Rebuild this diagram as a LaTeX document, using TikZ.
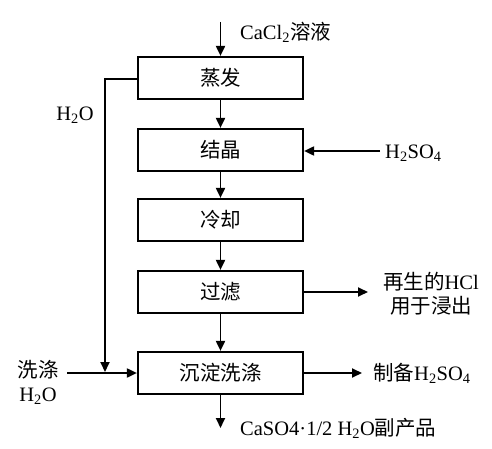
\documentclass[tikz,border=0pt]{standalone}
\usepackage{fontspec}
\setmainfont{Liberation Serif}
\newfontfamily\cjk{Noto Sans CJK SC}
\usetikzlibrary{arrows.meta}
\begin{document}
\begin{tikzpicture}[x=1pt,y=-1pt,
  every node/.style={font=\fontsize{20.5}{24}\selectfont},
  stepbox/.style={draw,line width=2.2pt,minimum width=165pt,minimum height=42pt,inner sep=0pt},
  flow/.style={line width=1.9pt,-{Triangle[length=10pt,width=9pt]}},
  lbl/.style={inner sep=0pt,anchor=west}]
\useasboundingbox (0,0) rectangle (492,449);
\node[stepbox] (b1) at (220.5,78) {\cjk 蒸发};
\node[stepbox] (b2) at (220.5,150) {\cjk 结晶};
\node[stepbox] (b3) at (220.5,220) {\cjk 冷却};
\node[stepbox] (b4) at (220.5,292) {\cjk 过滤};
\node[stepbox] (b5) at (220.5,373) {\cjk 沉淀洗涤};
\coordinate (top) at (220.5,22);
\node[lbl] (cacl) at (240,32) {CaCl\textsubscript{2}{\cjk 溶液}};
\draw[flow] (top) -- (b1.north);
\draw[flow] (b1) -- (b2);
\draw[flow] (b2) -- (b3);
\draw[flow] (b3) -- (b4);
\draw[flow] (b4) -- (b5);
\coordinate (bot) at (220.5,428);
\draw[flow] (b5.south) -- (bot);
\node[lbl] (prod) at (240,428) {CaSO4·1/2 H\textsubscript{2}O{\cjk 副产品}};
% H2SO4 into crystallization
\coordinate (hs) at (380,151);
\draw[flow] (hs) -- (b2.east |- hs);
\node[lbl] (hsl) at (385,153) {H\textsubscript{2}SO\textsubscript{4}};
% HCl out
\coordinate (hcl) at (368,292);
\draw[flow] (b4.east |- hcl) -- (hcl);
\node[inner sep=0pt,align=center] (hcll) at (431,294) {{\cjk 再生的}HCl\\{\cjk 用于浸出}};
% H2SO4 out
\coordinate (so) at (362,373);
\draw[flow] (b5.east) -- (so);
\node[lbl] (sol) at (373,373) {{\cjk 制备}H\textsubscript{2}SO\textsubscript{4}};
% water recycle
\coordinate (w1) at (105,79);
\coordinate (w2) at (105,372);
\draw[flow] (b1.west |- w1) -- (w1) -- (w2);
\node[inner sep=0pt] (h2o) at (75,115) {H\textsubscript{2}O};
% wash water
\coordinate (ww) at (67,373);
\draw[flow] (ww) -- (b5.west);
\node[inner sep=0pt,align=center] (wash) at (38,382) {{\cjk 洗涤}\\H\textsubscript{2}O};
\end{tikzpicture}
\end{document}
